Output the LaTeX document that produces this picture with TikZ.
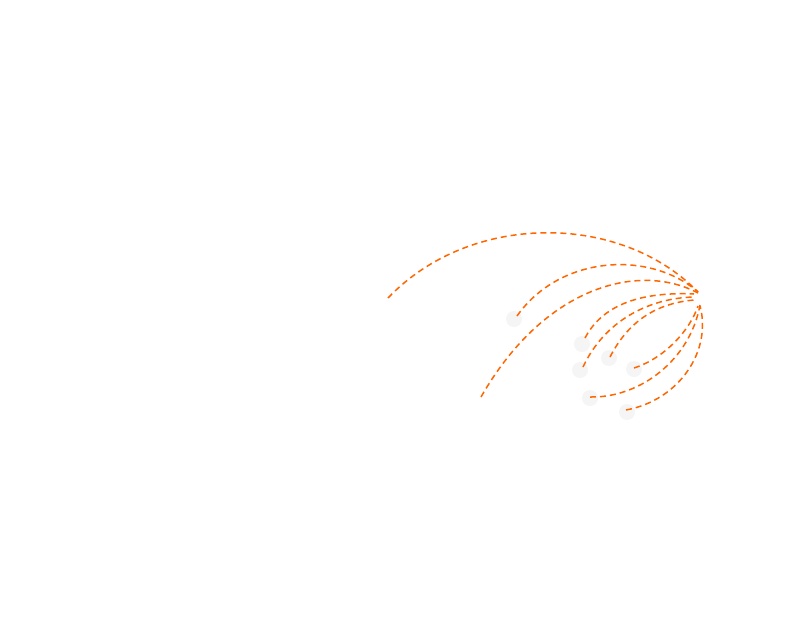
\documentclass[tikz,border=0pt]{standalone}
\begin{document}
\begin{tikzpicture}[x=1pt,y=-1pt,
  arc/.style={draw={rgb,255:red,255;green,102;blue,0},line width=1.5pt,dash pattern=on 6pt off 4pt},
  dot/.style={circle,fill=black!4,minimum size=16pt,inner sep=0pt}]
\useasboundingbox (0,0) rectangle (806,627);
\coordinate (hub) at (698,293);
\coordinate (e1) at (388,298);
\node[dot] (d2) at (514,319) {}; \coordinate (e2) at (517,316);
\coordinate (e3) at (481,397);
\node[dot] (d4) at (582,344) {}; \coordinate (e4) at (585,338);
\node[dot] (d5) at (580,370) {}; \coordinate (e5) at (583,367);
\node[dot] (d6) at (609,358) {}; \coordinate (e6) at (610,357);
\node[dot] (d7) at (634,369) {}; \coordinate (e7) at (634,368);
\node[dot] (d8) at (590,398) {}; \coordinate (e8) at (590,397);
\node[dot] (d9) at (627,412) {}; \coordinate (e9) at (626,410);
\path[arc] (e1) .. controls (470,212) and (620,212) .. (698,292);
\path[arc] (e2) .. controls (560,255) and (650,250) .. (698,292);
\path[arc] (e3) .. controls (545,285) and (640,262) .. (698,293);
\path[arc] (e4) .. controls (605,300) and (650,292) .. (694,294);
\path[arc] (e5) .. controls (605,320) and (650,298) .. (694,297);
\path[arc] (e6) .. controls (630,318) and (660,303) .. (694,300);
\path[arc] (e7) .. controls (665,358) and (690,330) .. (698,306);
\path[arc] (e8) .. controls (640,398) and (690,360) .. (700,305);
\path[arc] (e9) .. controls (680,400) and (712,350) .. (700,306);
\end{tikzpicture}
\end{document}
